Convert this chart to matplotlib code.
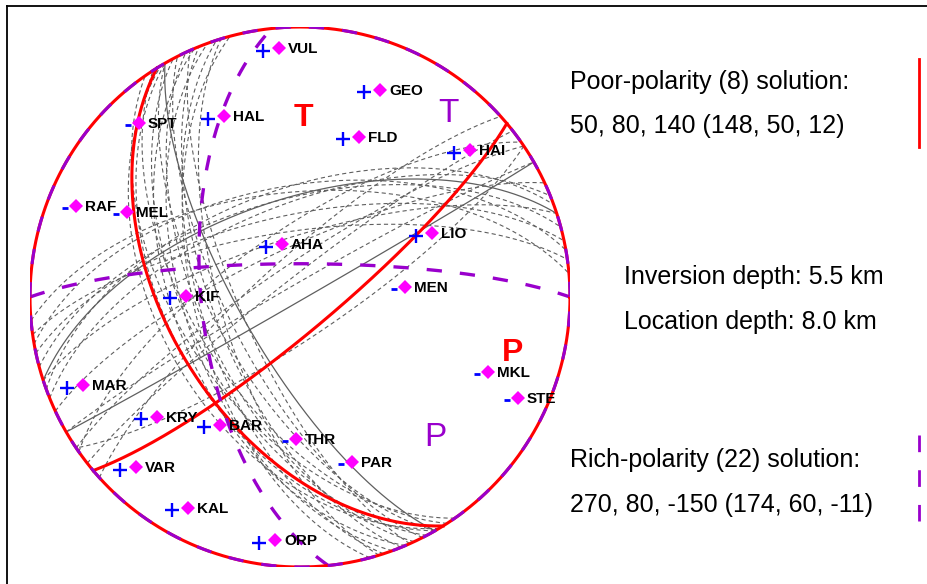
import numpy as np
import matplotlib
matplotlib.use('Agg')
import matplotlib.pyplot as plt
from matplotlib.lines import Line2D
from matplotlib.transforms import offset_copy

plt.rcParams['font.family'] = ['Liberation Sans', 'DejaVu Sans']
plt.rcParams['lines.scale_dashes'] = False

##################
# data
##################

# best solutions (strike, dip) of both nodal planes
poor_strike = [50, 148]
poor_dip = [80, 50]
rich_strike = [270, 174]
rich_dip = [80, 60]

# other acceptable solutions (grey dashed)
alt_strike = [150, 152, 155, 147, 150, 153, 157, 160, 162, 158, 145, 149, 163, 156, 165,
              255, 258, 262, 250, 265, 248, 252, 260, 232, 236, 240, 228, 245, 235, 56]
alt_dip = [50, 56, 60, 58, 64, 68, 52, 55, 60, 64, 54, 47, 66, 72, 58,
           60, 65, 70, 57, 58, 62, 72, 56, 84, 80, 86, 78, 75, 70, 78]
# grey solid solutions
sol_strike = [60, 252, 150]
sol_dip = [89, 60, 72]

# stations: projected position on the unit focal sphere (east, north)
stations = ['VUL', 'GEO', 'HAL', 'SPT', 'FLD', 'HAI', 'RAF', 'MEL', 'AHA', 'LIO', 'MEN',
            'KIF', 'MAR', 'MKL', 'STE', 'KRY', 'BAR', 'THR', 'PAR', 'VAR', 'KAL', 'ORP']
sta_x = [-0.078, 0.296, -0.281, -0.596, 0.219, 0.630, -0.830, -0.641, -0.067, 0.489, 0.389,
         -0.422, -0.804, 0.696, 0.807, -0.530, -0.296, -0.015, 0.193, -0.607, -0.415, -0.093]
sta_y = [0.922, 0.767, 0.670, 0.644, 0.593, 0.544, 0.337, 0.315, 0.196, 0.237, 0.037,
         0.004, -0.326, -0.278, -0.374, -0.444, -0.474, -0.526, -0.611, -0.630, -0.781, -0.900]
polarity = ['+', '+', '+', '-', '+', '+', '-', '-', '+', '+', '-',
            '+', '+', '-', '-', '+', '+', '-', '-', '+', '+', '+']

RED = '#ff0000'
PURPLE = '#9900cc'
GREY = '#5f5f5f'


def great_circle(strike, dip, n=241):
    # lower hemisphere, equal area (Schmidt) projection
    s, d = np.radians(strike), np.radians(dip)
    t = np.linspace(0., np.pi, n)
    sv = np.array([np.sin(s), np.cos(s), 0.])
    dv = np.array([np.cos(d)*np.sin(s+np.pi/2), np.cos(d)*np.cos(s+np.pi/2), np.sin(d)])
    v = np.outer(np.cos(t), sv) + np.outer(np.sin(t), dv)
    f = 1./np.sqrt(1.+v[:, 2])
    return v[:, 0]*f, v[:, 1]*f


W, H = 928, 584
fig = plt.figure(figsize=(W/100., H/100.), dpi=100)

# frame (left and top only)
fig.add_artist(Line2D([7./W, 7./W], [0, 1-6./H], transform=fig.transFigure, color='k', lw=1.3))
fig.add_artist(Line2D([7./W, 1], [1-6./H, 1-6./H], transform=fig.transFigure, color='k', lw=1.3))

# beach ball axes: centre (300, 297) px, radius 270 px
ax = fig.add_axes([30./W, (H-297-270.)/H, 540./W, 540./H])
ax.set_xlim(-1, 1)
ax.set_ylim(-1, 1)
ax.set_aspect('equal')
ax.axis('off')

for s, d in zip(alt_strike, alt_dip):
    x, y = great_circle(s, d)
    ax.plot(x, y, color=GREY, lw=0.8, dashes=(3, 2.2), zorder=1)
for s, d in zip(sol_strike, sol_dip):
    x, y = great_circle(s, d)
    ax.plot(x, y, color=GREY, lw=0.9, zorder=1)

for s, d in zip(poor_strike, poor_dip):
    x, y = great_circle(s, d)
    ax.plot(x, y, color=RED, lw=2.2, zorder=3)
for s, d in zip(rich_strike, rich_dip):
    x, y = great_circle(s, d)
    ax.plot(x, y, color=PURPLE, lw=2.4, dashes=(11, 13), zorder=3)

th = np.linspace(0, 2*np.pi, 721)
ax.plot(np.cos(th), np.sin(th), color=RED, lw=2.2, zorder=4)
ax.plot(np.cos(th), np.sin(th), color=PURPLE, lw=2.2, dashes=(11, 13), zorder=4)

# stations
plus_tr = offset_copy(ax.transData, fig=fig, x=-16, y=-2.5, units='dots')
minus_tr = offset_copy(ax.transData, fig=fig, x=-11, y=-2, units='dots')
for name, x, y, p in zip(stations, sta_x, sta_y, polarity):
    if p == '+':
        ax.plot(x, y, marker='+', ms=10, mew=1.7, color='#0000ff', transform=plus_tr, zorder=5)
    else:
        ax.plot(x, y, marker='_', ms=4.5, mew=2, color='#0000ff', transform=minus_tr, zorder=5)
    ax.plot(x, y, marker='D', ms=6.8, mew=0, color='#ff00ff', zorder=6)
    ax.annotate(name, (x, y), xytext=(9, -5), textcoords='offset pixels', ha='left',
                va='baseline', fontsize=11, fontweight='bold', color='k', zorder=7)

# P and T axes
fig.text(303./W, 1-118./H, 'T', color=RED, fontsize=23, fontweight='bold', ha='center', va='center')
fig.text(513./W, 1-353./H, 'P', color=RED, fontsize=23, fontweight='bold', ha='center', va='center')
fig.text(448./W, 1-113./H, 'T', color=PURPLE, fontsize=24, ha='center', va='center')
fig.text(435./W, 1-438./H, 'P', color=PURPLE, fontsize=24, ha='center', va='center')

# annotations on the right
fs = 18
fig.text(570./W, 1-89./H, 'Poor-polarity (8) solution:', fontsize=fs, va='baseline')
fig.text(570./W, 1-133./H, '50, 80, 140 (148, 50, 12)', fontsize=fs, va='baseline')
fig.text(624./W, 1-284./H, 'Inversion depth: 5.5 km', fontsize=fs, va='baseline')
fig.text(624./W, 1-329./H, 'Location depth: 8.0 km', fontsize=fs, va='baseline')
fig.text(570./W, 1-467./H, 'Rich-polarity (22) solution:', fontsize=fs, va='baseline')
fig.text(570./W, 1-512./H, '270, 80, -150 (174, 60, -11)', fontsize=fs, va='baseline')

fig.add_artist(Line2D([919./W, 919./W], [1-59./H, 1-147./H], transform=fig.transFigure, color=RED, lw=2))
fig.add_artist(Line2D([919./W, 919./W], [1-435./H, 1-521./H], transform=fig.transFigure,
                      color=PURPLE, lw=2, dashes=(12, 13)))

fig.savefig('out.png', dpi=100, facecolor='white')
